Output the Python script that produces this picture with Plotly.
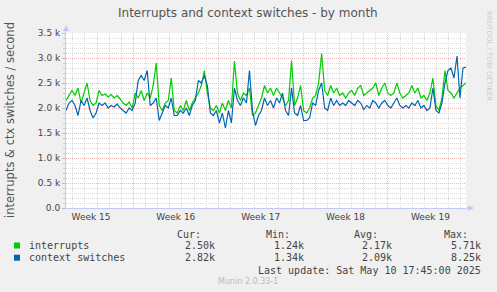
import pandas as pd
import plotly.graph_objects as go

# ---------------- data (values in thousands per second) ----------------
interrupts_k = [
    2.15, 2.25, 2.35, 2.25, 2.40, 2.10, 2.30, 2.50, 2.15, 2.05,
    2.10, 2.35, 2.25, 2.28, 2.22, 2.27, 2.20, 2.25, 2.18, 2.10,
    2.05, 2.12, 2.00, 2.30, 2.20, 2.35, 2.15, 2.30, 2.20, 2.45,
    2.90, 2.05, 1.95, 2.10, 2.15, 2.60, 1.95, 1.90, 2.05, 1.95,
    2.15, 1.95, 2.10, 2.20, 2.30, 2.45, 2.75, 2.30, 2.00, 1.95,
    2.05, 1.90, 2.10, 1.95, 2.15, 2.00, 2.94, 2.30, 2.15, 2.30,
    2.25, 2.40, 1.85, 1.90, 2.05, 2.20, 2.45, 2.30, 2.40, 2.25,
    2.40, 2.30, 2.20, 2.05, 2.15, 2.95, 2.05, 2.20, 2.45, 1.95,
    1.90, 2.00, 2.20, 2.25, 2.50, 3.09, 2.35, 2.25, 2.45, 2.30,
    2.40, 2.25, 2.30, 2.20, 2.30, 2.35, 2.25, 2.40, 2.45, 2.25,
    2.30, 2.35, 2.40, 2.50, 2.25, 2.40, 2.50, 2.30, 2.25, 2.30,
    2.50, 2.30, 2.20, 2.25, 2.30, 2.45, 2.30, 2.40, 2.20, 2.25,
    2.15, 2.30, 2.60, 2.05, 1.95, 2.20, 2.75, 2.35, 2.30, 2.20,
    2.30, 2.40, 2.45, 2.50,
]
context_switches_k = [
    1.95, 2.10, 2.15, 2.05, 1.85, 2.15, 2.05, 2.20, 1.95, 1.80,
    1.90, 2.10, 2.05, 2.10, 2.00, 2.05, 2.02, 2.08, 2.00, 1.95,
    1.90, 2.00, 1.95, 2.10, 2.55, 2.65, 2.55, 2.75, 2.05, 2.10,
    2.20, 1.75, 1.90, 2.05, 2.00, 2.20, 1.85, 1.85, 1.95, 1.90,
    2.00, 1.85, 2.05, 2.15, 2.55, 2.50, 2.65, 2.45, 1.90, 1.85,
    1.95, 1.70, 1.90, 1.60, 1.95, 1.70, 2.40, 2.15, 2.05, 2.20,
    2.10, 2.75, 1.95, 1.65, 1.85, 1.95, 2.20, 2.05, 2.15, 2.00,
    2.20, 2.10, 2.30, 1.95, 1.85, 2.40, 1.90, 1.85, 2.05, 1.75,
    1.75, 1.80, 2.10, 2.05, 2.35, 2.50, 2.00, 1.95, 2.20, 2.05,
    2.15, 2.05, 2.10, 2.05, 2.15, 2.10, 2.05, 2.15, 2.10, 1.97,
    2.05, 2.00, 2.15, 2.10, 2.00, 2.10, 2.15, 2.05, 2.00, 2.10,
    2.20, 2.05, 2.00, 2.05, 2.00, 2.10, 2.05, 2.15, 2.00, 2.05,
    1.95, 2.00, 2.40, 1.95, 1.90, 2.10, 2.50, 2.75, 2.80, 2.60,
    3.04, 2.20, 2.80, 2.82,
]
range_start = "2025-04-08 10:30"
range_end = "2025-05-11 10:30"
week_label_times = ["2025-04-10 12:00", "2025-04-17 12:00", "2025-04-24 12:00",
                    "2025-05-01 12:00", "2025-05-08 12:00"]
week_labels = ["Week 15", "Week 16", "Week 17", "Week 18", "Week 19"]
y_tick_vals = [0, 0.5, 1.0, 1.5, 2.0, 2.5, 3.0, 3.5]
y_tick_text = ["0.0", "0.5 k", "1.0 k", "1.5 k", "2.0 k", "2.5 k", "3.0 k", "3.5 k"]

series_names = ["interrupts", "context switches"]
series_colors = ["#00CC00", "#0066B3"]
stat_cur = ["2.50k", "2.82k"]
stat_min = ["1.24k", "1.34k"]
stat_avg = ["2.17k", "2.09k"]
stat_max = ["5.71k", "8.25k"]

times = pd.date_range(range_start, range_end, periods=len(interrupts_k))

# ---------------- layout geometry ----------------
W, H = 497, 292
L, R, T, B = 66, 31, 33, 84
PW, PH = W - L - R, H - T - B


def px(x, y):
    return (x - L) / PW, (H - B - y) / PH


TEXT = "#444444"
SANS = "DejaVu Sans"
MONO = "DejaVu Sans Mono"
AXIS_C = "#C4C8F4"
MINOR_C = "#DADADA"
MAJOR_C = "#EDB8B8"

fig = go.Figure()
fig.add_trace(go.Scatter(x=times, y=interrupts_k, mode="lines", name=series_names[0],
                         line=dict(color=series_colors[0], width=1.2), hoverinfo="skip"))
fig.add_trace(go.Scatter(x=times, y=context_switches_k, mode="lines", name=series_names[1],
                         line=dict(color=series_colors[1], width=1.2), hoverinfo="skip"))
# helper trace for weekly grid axis
fig.add_trace(go.Scatter(x=[times[0]], y=[None], xaxis="x2", yaxis="y", showlegend=False,
                         hoverinfo="skip", mode="lines"))

fig.update_layout(
    width=W, height=H,
    margin=dict(l=L, r=R, t=T, b=B, autoexpand=False),
    paper_bgcolor="#F0F0F0", plot_bgcolor="#FFFFFF",
    showlegend=False,
    font=dict(family=SANS, size=9, color=TEXT),
    xaxis=dict(
        type="date", range=[range_start, range_end],
        tickmode="array", tickvals=week_label_times, ticktext=week_labels,
        ticks="", showgrid=False, zeroline=False,
        showline=True, linecolor=AXIS_C, linewidth=1,
        tickfont=dict(family=SANS, size=9, color=TEXT),
        minor=dict(tickmode="linear", tick0="2025-04-08", dtick=86400000,
                   showgrid=True, gridcolor=MINOR_C, griddash="1px,1px", gridwidth=1, ticks=""),
    ),
    xaxis2=dict(
        type="date", range=[range_start, range_end], overlaying="x", anchor="y",
        tickmode="linear", tick0="2025-04-14", dtick=7 * 86400000,
        showticklabels=False, ticks="", showline=False, zeroline=False,
        showgrid=True, gridcolor=MAJOR_C, griddash="1px,1px", gridwidth=1,
    ),
    yaxis=dict(
        range=[0, 3.5], tickmode="array", tickvals=y_tick_vals, ticktext=y_tick_text,
        showgrid=True, gridcolor=MAJOR_C, griddash="1px,1px", gridwidth=1,
        zeroline=False, showline=True, linecolor=AXIS_C, linewidth=1,
        ticks="outside", ticklen=3, tickcolor="#BBBBBB",
        tickfont=dict(family=SANS, size=9, color=TEXT),
        minor=dict(tickmode="linear", tick0=0, dtick=0.1, showgrid=True,
                   gridcolor=MINOR_C, griddash="1px,1px", gridwidth=1,
                   ticks="outside", ticklen=2, tickcolor="#CCCCCC"),
    ),
)

ann = []


def text(x, y, s, anchor="left", size=10, family=MONO, color=TEXT, angle=0):
    xp, yp = px(x, y)
    ann.append(dict(x=xp, y=yp, xref="paper", yref="paper", text=s, showarrow=False,
                    xanchor=anchor, yanchor="middle", textangle=angle,
                    font=dict(family=family, size=size, color=color)))


# title
text(248, 13, "Interrupts and context switches - by month", anchor="center", size=12,
     family=SANS, color="#555555")
# y-axis title
text(10, 120, "interrupts &amp; ctx switches / second", anchor="center", size=11.5,
     family=SANS, color="#555555", angle=-90)
# watermark
text(489, 56, "RRDTOOL / TOBI OETIKER", anchor="center", size=7, family=SANS,
     color="#CCCCCC", angle=90)

# legend table
text(203, 234, "Cur:", anchor="right")
text(292, 234, "Min:", anchor="right")
text(380, 234, "Avg:", anchor="right")
text(470, 234, "Max:", anchor="right")
row_y = [245.5, 257.7]
shapes = []
for k in range(2):
    y = row_y[k]
    text(27, y, series_names[k], anchor="left")
    text(217, y, stat_cur[k], anchor="right")
    text(306, y, stat_min[k], anchor="right")
    text(394, y, stat_avg[k], anchor="right")
    text(483, y, stat_max[k], anchor="right")
    x0, y0 = px(14, y - 3)
    x1, y1 = px(20, y + 3)
    shapes.append(dict(type="rect", xref="paper", yref="paper", x0=x0, x1=x1, y0=y0, y1=y1,
                       fillcolor=series_colors[k], line=dict(width=0)))
text(483, 270, "Last update: Sat May 10 17:45:00 2025", anchor="right")
text(248, 281, "Munin 2.0.33-1", anchor="center", size=8, family=SANS, color="#BBBBBB")

# axis extensions and arrows
ax0, ay0 = px(66, 208)
ax1, ay1 = px(66, 29)
shapes.append(dict(type="line", xref="paper", yref="paper", x0=ax0, x1=ax0, y0=1, y1=ay1,
                   line=dict(color=AXIS_C, width=1)))
bx1, _ = px(470, 208)
shapes.append(dict(type="line", xref="paper", yref="paper", x0=1, x1=bx1, y0=0, y1=0,
                   line=dict(color=AXIS_C, width=1)))
# up arrow
p1 = px(66, 25); p2 = px(63, 31); p3 = px(69, 31)
shapes.append(dict(type="path", xref="paper", yref="paper",
                   path=f"M {p1[0]} {p1[1]} L {p2[0]} {p2[1]} L {p3[0]} {p3[1]} Z",
                   fillcolor=AXIS_C, line=dict(width=0)))
# right arrow
q1 = px(474, 208); q2 = px(468, 205); q3 = px(468, 211)
shapes.append(dict(type="path", xref="paper", yref="paper",
                   path=f"M {q1[0]} {q1[1]} L {q2[0]} {q2[1]} L {q3[0]} {q3[1]} Z",
                   fillcolor=AXIS_C, line=dict(width=0)))

fig.update_layout(annotations=ann, shapes=shapes)
fig.write_html("out.html", config={"displayModeBar": False})
